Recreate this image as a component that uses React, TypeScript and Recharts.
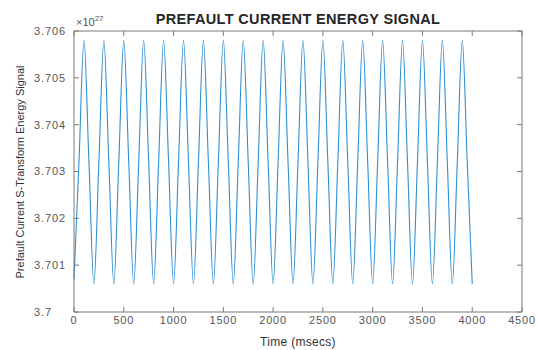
import { LineChart, Line, XAxis, YAxis } from "recharts";

// Time axis samples (msecs)
const timeMs = [
  0, 50, 100, 150, 200, 250, 300, 350, 400, 450, 500, 550, 600, 650, 700, 750,
  800, 850, 900, 950, 1000, 1050, 1100, 1150, 1200, 1250, 1300, 1350, 1400,
  1450, 1500, 1550, 1600, 1650, 1700, 1750, 1800, 1850, 1900, 1950, 2000, 2050,
  2100, 2150, 2200, 2250, 2300, 2350, 2400, 2450, 2500, 2550, 2600, 2650, 2700,
  2750, 2800, 2850, 2900, 2950, 3000, 3050, 3100, 3150, 3200, 3250, 3300, 3350,
  3400, 3450, 3500, 3550, 3600, 3650, 3700, 3750, 3800, 3850, 3900, 3950, 4000,
];

// S-transform energy, in units of 1e27
const energy = [
  3.7007, 3.7032, 3.7058, 3.7032, 3.7006, 3.7032, 3.7058, 3.7032, 3.7006,
  3.7032, 3.7058, 3.7032, 3.7006, 3.7032, 3.7058, 3.7032, 3.7006, 3.7032,
  3.7058, 3.7032, 3.7006, 3.7032, 3.7058, 3.7032, 3.7006, 3.7032, 3.7058,
  3.7032, 3.7006, 3.7032, 3.7058, 3.7032, 3.7006, 3.7032, 3.7058, 3.7032,
  3.7006, 3.7032, 3.7058, 3.7032, 3.7006, 3.7032, 3.7058, 3.7032, 3.7006,
  3.7032, 3.7058, 3.7032, 3.7006, 3.7032, 3.7058, 3.7032, 3.7006, 3.7032,
  3.7058, 3.7032, 3.7006, 3.7032, 3.7058, 3.7032, 3.7006, 3.7032, 3.7058,
  3.7032, 3.7006, 3.7032, 3.7058, 3.7032, 3.7006, 3.7032, 3.7058, 3.7032,
  3.7006, 3.7032, 3.7058, 3.7032, 3.7006, 3.7032, 3.7058, 3.7032, 3.7006,
];

const xTicks = [0, 500, 1000, 1500, 2000, 2500, 3000, 3500, 4000, 4500];
const yTicks = [3.7, 3.701, 3.702, 3.703, 3.704, 3.705, 3.706];

const data = timeMs.map((t, i) => ({ t, e: energy[i] }));

const FONT = "'Liberation Sans', Arial, Helvetica, sans-serif";
const AXIS = "#7a7a7a";
const TEXT = "#555";

const YTick = ({ y, payload }: any) => (
  <text
    x={34}
    y={y}
    dy="0.35em"
    textAnchor="start"
    fill={TEXT}
    fontSize={11}
    letterSpacing={0.9}
    fontFamily={FONT}
  >
    {payload.value === 3.7 ? "3.7" : payload.value.toFixed(3)}
  </text>
);

const NoTick = () => <g />;

export default function App() {
  return (
    <div
      style={{
        position: "absolute",
        left: 0,
        top: 0,
        width: 537,
        height: 350,
        background: "#fff",
        fontFamily: FONT,
      }}
    >
      <LineChart
        width={537}
        height={350}
        data={data}
        margin={{ top: 30, right: 14, bottom: 18, left: 30 }}
      >
        <XAxis
          dataKey="t"
          type="number"
          domain={[0, 4500]}
          ticks={xTicks}
          interval={0}
          height={20}
          stroke={AXIS}
          tickSize={-5}
          tickMargin={9}
          tick={{ fill: TEXT, fontSize: 11, fontFamily: FONT, letterSpacing: 0.8 }}
        />
        <XAxis
          xAxisId="top"
          orientation="top"
          dataKey="t"
          type="number"
          domain={[0, 4500]}
          ticks={xTicks}
          interval={0}
          height={1}
          stroke={AXIS}
          tickSize={-5}
          tick={<NoTick />}
        />
        <YAxis
          type="number"
          domain={[3.7, 3.706]}
          ticks={yTicks}
          interval={0}
          width={44}
          stroke={AXIS}
          tickSize={-5}
          tick={<YTick />}
        />
        <YAxis
          yAxisId="right"
          orientation="right"
          type="number"
          domain={[3.7, 3.706]}
          ticks={yTicks}
          interval={0}
          width={1}
          stroke={AXIS}
          tickSize={-5}
          tick={<NoTick />}
        />
        <Line
          type="monotone"
          dataKey="e"
          stroke="#2f8fd3"
          strokeWidth={1.1}
          dot={false}
          isAnimationActive={false}
        />
        {/* invisible trace so the box axes on top/right get laid out */}
        <Line
          xAxisId="top"
          yAxisId="right"
          dataKey="e"
          stroke="none"
          dot={false}
          activeDot={false}
          legendType="none"
          isAnimationActive={false}
        />
      </LineChart>

      <div
        style={{
          position: "absolute",
          left: 0,
          width: 596,
          top: 11,
          textAlign: "center",
          fontWeight: "bold",
          fontSize: 14.5,
          color: "#262626",
          letterSpacing: 0.35,
        }}
      >
        PREFAULT CURRENT ENERGY SIGNAL
      </div>
      <div
        style={{
          position: "absolute",
          left: 76,
          top: 14,
          fontSize: 11,
          color: TEXT,
        }}
      >
        ×10<sup style={{ fontSize: 8, verticalAlign: 5 }}>27</sup>
      </div>
      <div
        style={{
          position: "absolute",
          left: 0,
          width: 596,
          top: 335,
          textAlign: "center",
          fontSize: 12,
          color: "#333",
          letterSpacing: 0.3,
        }}
      >
        Time (msecs)
      </div>
      <div
        style={{
          position: "absolute",
          left: 20,
          top: 172,
          transform: "translate(-50%, -50%) rotate(-90deg)",
          whiteSpace: "nowrap",
          fontSize: 11,
          color: "#333",
        }}
      >
        Prefault Current S-Transform Energy Signal
      </div>
    </div>
  );
}
